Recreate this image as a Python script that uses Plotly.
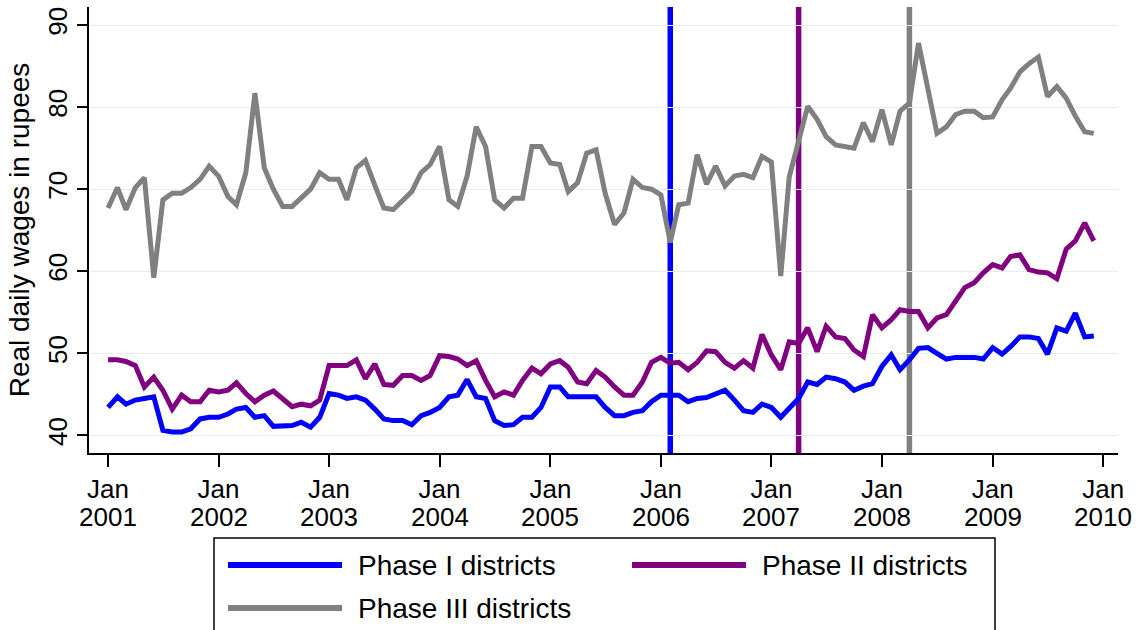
import pandas as pd
import plotly.graph_objects as go

# Monthly real daily wages, Jan 2001 - Dec 2009
months = pd.date_range("2001-01-01", periods=108, freq="MS")

phase1 = [
    43.4, 44.7, 43.8, 44.3, 44.5, 44.7, 40.6, 40.4, 40.4, 40.8, 42.0, 42.2,
    42.2, 42.6, 43.2, 43.4, 42.2, 42.4, 41.1, 41.1, 41.2, 41.6, 41.0, 42.2,
    45.1, 44.9, 44.5, 44.7, 44.3, 43.2, 42.0, 41.8, 41.8, 41.3, 42.4, 42.8,
    43.4, 44.7, 44.9, 46.8, 44.7, 44.5, 41.8, 41.2, 41.3, 42.2, 42.2, 43.4,
    45.9, 45.9, 44.7, 44.7, 44.7, 44.7, 43.4, 42.4, 42.4, 42.8, 43.0, 44.1,
    44.9, 44.9, 44.9, 44.1, 44.5, 44.6, 45.1, 45.5, 44.3, 43.0, 42.8, 43.8,
    43.4, 42.2, 43.3, 44.5, 46.5, 46.2, 47.1, 46.9, 46.5, 45.5, 46.0, 46.3,
    48.4, 49.8, 48.0, 49.2, 50.6, 50.7, 50.0, 49.3, 49.5, 49.5, 49.5, 49.3,
    50.7, 49.9, 50.8, 52.0, 52.0, 51.8, 49.9, 53.1, 52.7, 54.9, 52.0, 52.1,
]

phase2 = [
    49.2, 49.2, 49.0, 48.5, 45.9, 47.1, 45.5, 43.2, 44.9, 44.1, 44.1, 45.5,
    45.3, 45.5, 46.4, 45.1, 44.1, 44.9, 45.4, 44.5, 43.5, 43.8, 43.6, 44.3,
    48.5, 48.5, 48.5, 49.2, 46.9, 48.7, 46.2, 46.1, 47.3, 47.3, 46.7, 47.3,
    49.7, 49.6, 49.3, 48.5, 49.1, 46.7, 44.7, 45.3, 44.9, 46.7, 48.2, 47.5,
    48.7, 49.1, 48.3, 46.5, 46.3, 47.9, 47.1, 45.9, 44.9, 44.9, 46.5, 48.9,
    49.5, 48.8, 48.9, 48.0, 48.9, 50.3, 50.2, 48.9, 48.2, 49.1, 48.2, 52.3,
    49.8, 48.0, 51.4, 51.2, 53.1, 50.2, 53.3, 52.0, 51.8, 50.4, 49.6, 54.7,
    53.1, 54.1, 55.3, 55.1, 55.1, 53.1, 54.3, 54.7, 56.5, 58.0, 58.6, 59.8,
    60.8, 60.4, 61.8, 62.0, 60.2, 59.9, 59.8, 59.1, 62.7, 63.7, 65.9, 63.7,
]

phase3 = [
    67.7, 70.2, 67.5, 70.2, 71.4, 59.2, 68.7, 69.5, 69.5, 70.2, 71.2, 72.8,
    71.6, 69.1, 68.1, 72.0, 81.7, 72.6, 70.0, 67.9, 67.9, 68.9, 70.0, 72.0,
    71.2, 71.2, 68.7, 72.6, 73.5, 70.5, 67.7, 67.5, 68.7, 69.7, 72.0, 73.0,
    75.2, 68.7, 67.9, 71.6, 77.6, 75.2, 68.7, 67.7, 68.9, 68.9, 75.2, 75.2,
    73.2, 73.0, 69.7, 70.8, 74.4, 74.8, 69.5, 65.7, 67.1, 71.2, 70.2, 70.0,
    69.3, 63.5, 68.1, 68.3, 74.2, 70.6, 72.8, 70.4, 71.6, 71.8, 71.4, 74.0,
    73.3, 59.4, 71.5, 76.0, 80.1, 78.5, 76.4, 75.4, 75.2, 75.0, 78.1, 75.8,
    79.7, 75.4, 79.5, 80.5, 87.8, 82.3, 76.8, 77.6, 79.1, 79.5, 79.5, 78.7,
    78.8, 80.9, 82.3, 84.3, 85.3, 86.1, 81.3, 82.5, 81.1, 78.9, 77.0, 76.8,
]

series_names = ["Phase I districts", "Phase II districts", "Phase III districts"]
series_colors = ["#0000ff", "#800080", "#808080"]
series_values = [phase1, phase2, phase3]

# Programme roll-out month for each phase
rollout_dates = ["2006-02-01", "2007-04-01", "2008-04-01"]

tick_years = list(range(2001, 2011))
tick_dates = [f"{y}-01-01" for y in tick_years]
y_ticks = [40, 50, 60, 70, 80, 90]

FONT = "Liberation Sans, Arial, sans-serif"
TICK_SIZE = 26
W, H = 1141, 630
ML, MR, MT, MB = 89, 23, 7, 177
PW, PH = W - ML - MR, H - MT - MB


def paper_x(px):
    return (px - ML) / PW


def paper_y(py):
    return (H - MB - py) / PH


fig = go.Figure()

for name, color, vals in zip(series_names, series_colors, series_values):
    fig.add_trace(go.Scatter(
        x=months, y=vals, mode="lines", name=name,
        line=dict(color=color, width=5), showlegend=False,
    ))

shapes = []
for d, color in zip(rollout_dates, series_colors):
    shapes.append(dict(
        type="line", xref="x", yref="paper", x0=d, x1=d, y0=0, y1=1,
        line=dict(color=color, width=5.5), layer="between",
    ))

annotations = []

# Second line of the date labels: the year under each "Jan" tick
for d, y in zip(tick_dates, tick_years):
    annotations.append(dict(
        xref="x", yref="paper", x=d, y=paper_y(517), text=str(y),
        showarrow=False, xanchor="center", yanchor="middle",
        font=dict(family=FONT, size=TICK_SIZE, color="#000000"),
    ))

# Legend frame and entries below the plot
shapes.append(dict(
    type="rect", xref="paper", yref="paper",
    x0=paper_x(214), x1=paper_x(995), y0=paper_y(538), y1=paper_y(720),
    line=dict(color="#000000", width=1.5), fillcolor="rgba(0,0,0,0)",
))
legend_slots = [(228, 565), (632, 565), (228, 608)]
for name, color, (lx, ly) in zip(series_names, series_colors, legend_slots):
    shapes.append(dict(
        type="line", xref="paper", yref="paper",
        x0=paper_x(lx), x1=paper_x(lx + 114), y0=paper_y(ly), y1=paper_y(ly),
        line=dict(color=color, width=6),
    ))
    annotations.append(dict(
        xref="paper", yref="paper", x=paper_x(lx + 128), y=paper_y(ly),
        text=name, showarrow=False, xanchor="left", yanchor="middle",
        font=dict(family=FONT, size=28, color="#000000"),
    ))

x_range = ["2000-10-30", "2010-02-19"]

fig.update_layout(
    width=W, height=H,
    margin=dict(l=ML, r=MR, t=MT, b=MB, autoexpand=False),
    paper_bgcolor="#ffffff", plot_bgcolor="#ffffff",
    font=dict(family=FONT, color="#000000"),
    showlegend=False,
    shapes=shapes,
    annotations=annotations,
    xaxis=dict(
        type="date", range=x_range,
        tickmode="array", tickvals=tick_dates, ticktext=["Jan"] * len(tick_dates),
        ticks="outside", ticklen=12, tickwidth=1.5, tickcolor="#000000",
        tickfont=dict(family=FONT, size=TICK_SIZE, color="#000000"),
        showline=True, linecolor="#000000", linewidth=1.5,
        showgrid=False, zeroline=False,
    ),
    yaxis=dict(
        range=[37.85, 92.2],
        tickmode="array", tickvals=y_ticks,
        tickangle=-90,
        ticks="outside", ticklen=10, tickwidth=1.5, tickcolor="#000000",
        tickfont=dict(family=FONT, size=TICK_SIZE, color="#000000"),
        showline=True, linecolor="#000000", linewidth=1.5,
        showgrid=True, gridcolor="#e4edf0", gridwidth=1.2,
        zeroline=False,
        title=dict(text="Real daily wages in rupees", standoff=5,
                   font=dict(family=FONT, size=28, color="#000000")),
    ),
)

fig.write_html("out.html")
